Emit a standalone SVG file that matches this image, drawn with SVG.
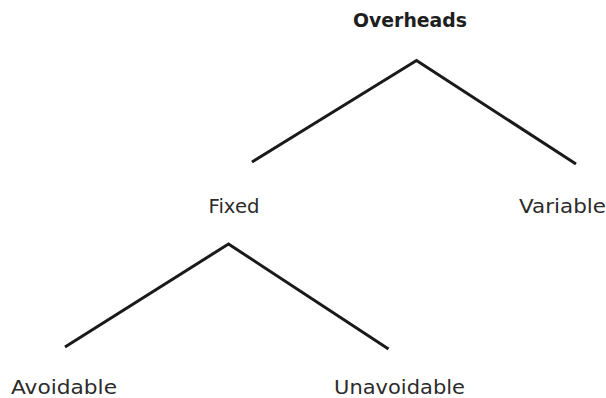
<svg xmlns="http://www.w3.org/2000/svg" width="606" height="398" viewBox="0 0 606 398">
<style>
.lbl{font-family:"DejaVu Sans","Liberation Sans",sans-serif;font-size:19px;fill:#2b2b2b}
.bold{font-weight:bold;fill:#1e1e1e}
.conn{fill:none;stroke:#1a1a1a;stroke-width:3;stroke-linejoin:miter;stroke-linecap:butt}
</style>
<rect width="606" height="398" fill="#ffffff"/>
<g id="connectors">
<polyline class="conn" points="252,162 416.5,60.5 576,164"/>
<polyline class="conn" points="65,347 228.5,244 388.5,349"/>
</g>
<g id="node-overheads"><text class="lbl bold" x="353" y="27" textLength="114" lengthAdjust="spacingAndGlyphs">Overheads</text></g>
<g id="node-fixed"><text class="lbl" x="208.5" y="213" textLength="51" lengthAdjust="spacingAndGlyphs">Fixed</text></g>
<g id="node-variable"><text class="lbl" x="519" y="213" textLength="87" lengthAdjust="spacingAndGlyphs">Variable</text></g>
<g id="node-avoidable"><text class="lbl" x="11" y="394" textLength="106" lengthAdjust="spacingAndGlyphs">Avoidable</text></g>
<g id="node-unavoidable"><text class="lbl" x="334" y="394" textLength="131" lengthAdjust="spacingAndGlyphs">Unavoidable</text></g>
</svg>
